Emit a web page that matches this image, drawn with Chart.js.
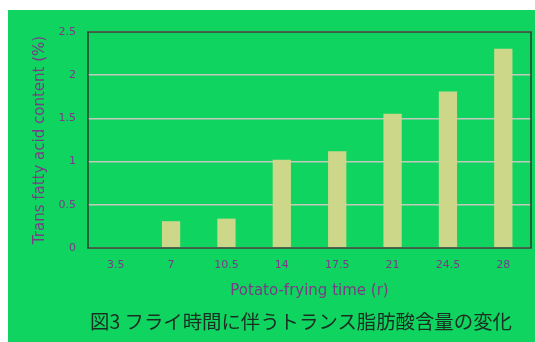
<!DOCTYPE html>
<html><head><meta charset="utf-8">
<script src="https://cdn.jsdelivr.net/npm/chart.js@4/dist/chart.umd.min.js"></script>
<style>
html,body{margin:0;padding:0;background:#fff;}
#wrap{position:absolute;left:8px;top:10px;width:527px;height:332px;background:#10d460;}
#c{position:absolute;left:0;top:0;}
#cap{position:absolute;left:82px;top:296px;font-family:"Noto Sans CJK JP";font-size:19.4px;font-weight:400;color:#1a2e22;white-space:nowrap;}
</style></head><body>
<div id="wrap"><canvas id="c" width="527" height="332"></canvas>
<div id="cap">図3 フライ時間に伴うトランス脂肪酸含量の変化</div></div>
<script>
const categories = ["3.5","7","10.5","14","17.5","21","24.5","28"];
const values = [0, 0.31, 0.34, 1.02, 1.12, 1.555, 1.81, 2.305];
const yTicks = [0, 0.5, 1, 1.5, 2, 2.5];
const yTitle = "Trans fatty acid content (%)";
const xTitle = "Potato-frying time (r)";

const txt = "#7a3a86";
const boxPlugin = {
  id: 'box',
  afterDraw(chart){
    const a = chart.chartArea, ctx = chart.ctx;
    ctx.save(); ctx.strokeStyle = "#24402c"; ctx.lineWidth = 1.5;
    ctx.strokeRect(a.left, a.top, a.right - a.left, a.bottom - a.top);
    ctx.restore();
  }
};
new Chart(document.getElementById('c'), {
  type: 'bar',
  data: { labels: categories, datasets: [{ data: values, backgroundColor: "#ccd78a", borderWidth: 0, barPercentage: 0.33, categoryPercentage: 1 }] },
  options: {
    responsive: false, animation: false, devicePixelRatio: 1,
    layout: { padding: { left: 0, right: 4, top: 22, bottom: 32 } },
    plugins: { legend: { display: false }, tooltip: { enabled: false }, title: { display: false } },
    scales: {
      x: {
        grid: { display: false, drawTicks: false },
        border: { display: false },
        ticks: { color: txt, font: { family: "DejaVu Sans", size: 11 }, padding: 11, maxRotation: 0 },
        title: { display: true, text: xTitle, color: txt, font: { family: "DejaVu Sans", size: 15 }, padding: { top: 0, bottom: 10 } },
        afterFit(s){ s.height = 62; }
      },
      y: {
        min: 0, max: 2.5,
        afterBuildTicks(s){ s.ticks = yTicks.map(v => ({ value: v })); },
        grid: { color: "#c4c9bc", lineWidth: 1.5, drawTicks: false },
        border: { display: false },
        ticks: { color: txt, font: { family: "DejaVu Sans", size: 11 }, padding: 12, callback: v => String(v) },
        title: { display: true, text: yTitle, color: txt, font: { family: "DejaVu Sans", size: 15 }, padding: { top: 23, bottom: 0 } },
        afterFit(s){ s.width = 80; }
      }
    }
  },
  plugins: [boxPlugin]
});
</script></body></html>
